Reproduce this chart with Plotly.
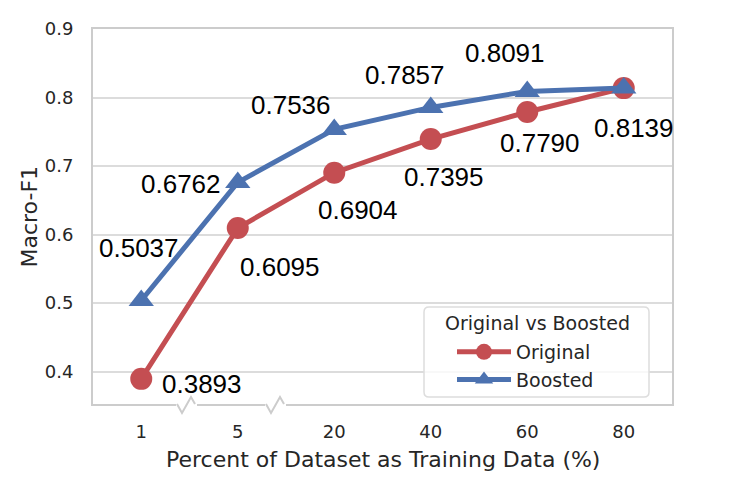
import plotly.graph_objects as go

categories = ["1", "5", "20", "40", "60", "80"]
original = [0.3893, 0.6095, 0.6904, 0.7395, 0.7790, 0.8139]
boosted = [0.5037, 0.6762, 0.7536, 0.7857, 0.8091, 0.8139]
y_ticks = [0.4, 0.5, 0.6, 0.7, 0.8, 0.9]

# label offsets in pixels (style only)
orig_shift = [(61, -5), (42, -39), (24, -37), (13, -38), (13, -31), (10, -40)]
boost_shift = [(-2, 53), (-57, -2), (-43, 24), (-26, 32), (-22, 38), None]

RED = "#c44e52"
BLUE = "#4c72b0"
GRID = "#dcdcdc"
BORDER = "#cccccc"
TXT = "#262626"

fig = go.Figure()
fig.add_trace(go.Scatter(
    x=categories, y=original, name="Original", mode="lines+markers",
    line=dict(color=RED, width=5),
    marker=dict(symbol="circle", size=22, color=RED),
    cliponaxis=False,
))
fig.add_trace(go.Scatter(
    x=categories, y=boosted, name="Boosted", mode="lines+markers",
    line=dict(color=BLUE, width=5),
    marker=dict(symbol="triangle-up", size=22, color=BLUE),
    cliponaxis=False,
))

LABEL_FONT = dict(family="Liberation Sans, Arial", size=26, color="black")
annotations = []
for i, (v, s) in enumerate(zip(original, orig_shift)):
    annotations.append(dict(x=i, y=v, xref="x", yref="y", text=f"{v:.4f}",
                            showarrow=False, xshift=s[0], yshift=s[1], font=LABEL_FONT))
for i, (v, s) in enumerate(zip(boosted, boost_shift)):
    if s is None:
        continue
    annotations.append(dict(x=i, y=v, xref="x", yref="y", text=f"{v:.4f}",
                            showarrow=False, xshift=s[0], yshift=s[1], font=LABEL_FONT))

# plot area in page pixels (page has an 8px body margin)
OFF = 8
L, R, T, B = 93, 672, 29, 404
W, H = R - L, B - T
def px(xp):
    return (xp - L) / W
def py(yp):
    return (B - yp) / H

TITLE_FONT = dict(family="DejaVu Sans", size=22, color=TXT)
# axis titles
annotations.append(dict(x=px(29), y=py((T + B) / 2), xref="paper", yref="paper",
                        text="Macro-F1", textangle=-90, showarrow=False,
                        xanchor="center", yanchor="middle", font=TITLE_FONT))
annotations.append(dict(x=0.5, y=py(459), xref="paper", yref="paper",
                        text="Percent of Dataset as Training Data (%)", showarrow=False,
                        xanchor="center", yanchor="middle", font=TITLE_FONT))
# legend title
annotations.append(dict(x=px(537), y=py(323), xref="paper", yref="paper",
                        text="Original vs Boosted", showarrow=False,
                        xanchor="center", yanchor="middle",
                        font=dict(family="DejaVu Sans", size=19, color=TXT)))

shapes = []
# axis break marks (decoration)
for x0 in (177, 266):
    shapes.append(dict(type="line", xref="paper", yref="paper",
                       x0=px(x0 - 1), x1=px(x0 + 20), y0=0, y1=0,
                       line=dict(color="white", width=4), layer="above"))
    path = (f"M {px(x0)},{py(404)} L {px(x0+5)},{py(413)} L {px(x0+14)},{py(397)} "
            f"L {px(x0+18)},{py(404)}")
    shapes.append(dict(type="path", xref="paper", yref="paper", path=path,
                       line=dict(color=BORDER, width=2), layer="above"))

# legend frame with rounded corners
lx0, lx1, ly0, ly1, r = 424, 649, 307, 397, 5
def P(x, y):
    return f"{px(x)},{py(y)}"
frame = (f"M {P(lx0 + r, ly0)} L {P(lx1 - r, ly0)} Q {P(lx1, ly0)} {P(lx1, ly0 + r)} "
         f"L {P(lx1, ly1 - r)} Q {P(lx1, ly1)} {P(lx1 - r, ly1)} "
         f"L {P(lx0 + r, ly1)} Q {P(lx0, ly1)} {P(lx0, ly1 - r)} "
         f"L {P(lx0, ly0 + r)} Q {P(lx0, ly0)} {P(lx0 + r, ly0)} Z")
shapes.append(dict(type="path", xref="paper", yref="paper", path=frame,
                   line=dict(color="#dddddd", width=1.5),
                   fillcolor="rgba(255,255,255,0.8)", layer="above"))

fig.update_layout(
    width=747, height=498,
    margin=dict(l=L - OFF, r=747 - (R - OFF), t=T - OFF, b=498 - (B - OFF), autoexpand=False),
    paper_bgcolor="white", plot_bgcolor="white",
    font=dict(family="DejaVu Sans", color=TXT),
    annotations=annotations,
    shapes=shapes,
    showlegend=True,
    legend=dict(
        x=px(452), y=py(333), xanchor="left", yanchor="top",
        bgcolor="rgba(0,0,0,0)", borderwidth=0,
        font=dict(family="DejaVu Sans", size=19, color=TXT),
        itemwidth=54, tracegroupgap=0,
    ),
    xaxis=dict(
        type="category", categoryorder="array", categoryarray=categories,
        range=[-0.5, 5.5], automargin=False,
        showgrid=False, showline=True, linecolor=BORDER, linewidth=2, mirror=True,
        ticks="outside", ticklen=10, tickcolor="rgba(0,0,0,0)",
        tickfont=dict(family="DejaVu Sans", size=18, color=TXT),
        zeroline=False,
    ),
    yaxis=dict(
        range=[0.3526, 0.9002], automargin=False,
        tickvals=y_ticks, ticktext=[f"{t:.1f}" for t in y_ticks],
        showgrid=True, gridcolor=GRID, gridwidth=1.5,
        showline=True, linecolor=BORDER, linewidth=2, mirror=True,
        ticks="outside", ticklen=14, tickcolor="rgba(0,0,0,0)",
        tickfont=dict(family="DejaVu Sans", size=18, color=TXT),
        zeroline=False,
    ),
)

fig.write_html("out.html")
